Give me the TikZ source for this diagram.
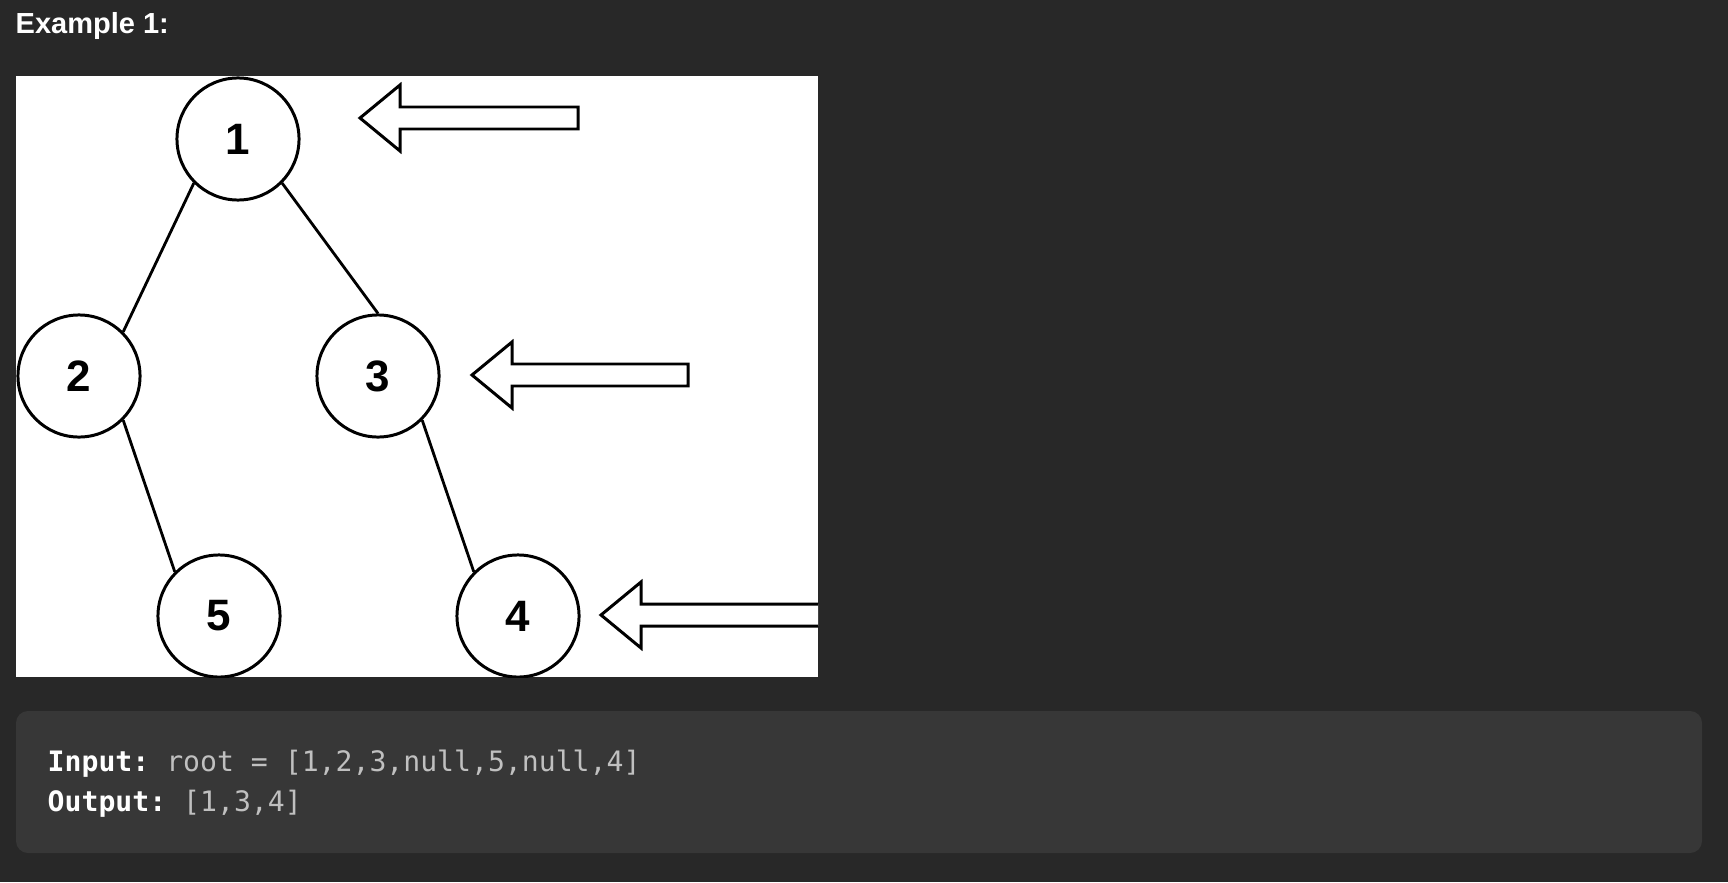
\documentclass[tikz,border=0pt]{standalone}
\usepackage{fontspec}
\setmainfont{Liberation Sans}
\setmonofont{DejaVu Sans Mono}
\usepackage{tikz}
\usetikzlibrary{positioning}
\definecolor{pagegray}{RGB}{40,40,40}
\definecolor{codegray}{RGB}{55,55,55}
\definecolor{codetext}{RGB}{192,192,192}
\tikzset{
    % Define standard node styles
    treenode/.style={
        circle, draw=black, line width=0.85pt, fill=white,
        minimum size=1.22cm, inner sep=0pt,
        font=\fontsize{12.5}{14}\selectfont\bfseries
    },
    treeedge/.style={
        line width=0.8pt, color=black
    },
    pointer/.style={
        draw=black, fill=white, line width=0.85pt, line join=miter
    },
    codeline/.style={
        anchor=base west, inner sep=0pt, text=codetext,
        font=\fontsize{8}{9.5}\selectfont\ttfamily
    }
}

\begin{document}
\begin{tikzpicture}[x=0.01cm, y=-0.01cm]

% Page background
\useasboundingbox (0,0) rectangle (1728,882);
\fill[pagegray] (0,0) rectangle (1728,882);
\node[anchor=base west, inner sep=0pt, text=white,
      font=\fontsize{8.25}{10}\selectfont\bfseries] (title) at (15,34) {Example 1:};

% Tree image
\fill[white] (16,76) rectangle (818,677);
\begin{scope}
\clip (16,76) rectangle (818,677);
\node[treenode] (n1) at (238,139) {1};
\node[treenode] (n2) at (79,376) {2};
\node[treenode] (n3) at (378,376) {3};
\node[treenode] (n5) at (219,616) {5};
\node[treenode] (n4) at (518,616) {4};

\draw[treeedge] (n1.south west) -- (n2.north east);
\draw[treeedge] (n1.south east) -- (n3.north);
\draw[treeedge] (n2.south east) -- (n5.north west);
\draw[treeedge] (n3.south east) -- (n4.north west);

% Right side view pointers
\foreach \ty/\tx/\ex in {118/360/578, 375/472/688, 615/601/840}
    \draw[pointer] (\tx,\ty) -- (\tx+40,\ty-33) -- (\tx+40,\ty-11) -- (\ex,\ty-11)
        -- (\ex,\ty+11) -- (\tx+40,\ty+11) -- (\tx+40,\ty+33) -- cycle;
\end{scope}

% Code block
\fill[codegray, rounded corners=0.12cm] (16,711) rectangle (1702,853);
\node[codeline] (input) at (47,771) {\textbf{\color{white}Input:} root = [1,2,3,null,5,null,4]};
\node[codeline] (output) at (47,811) {\textbf{\color{white}Output:} [1,3,4]};

\end{tikzpicture}
\end{document}
